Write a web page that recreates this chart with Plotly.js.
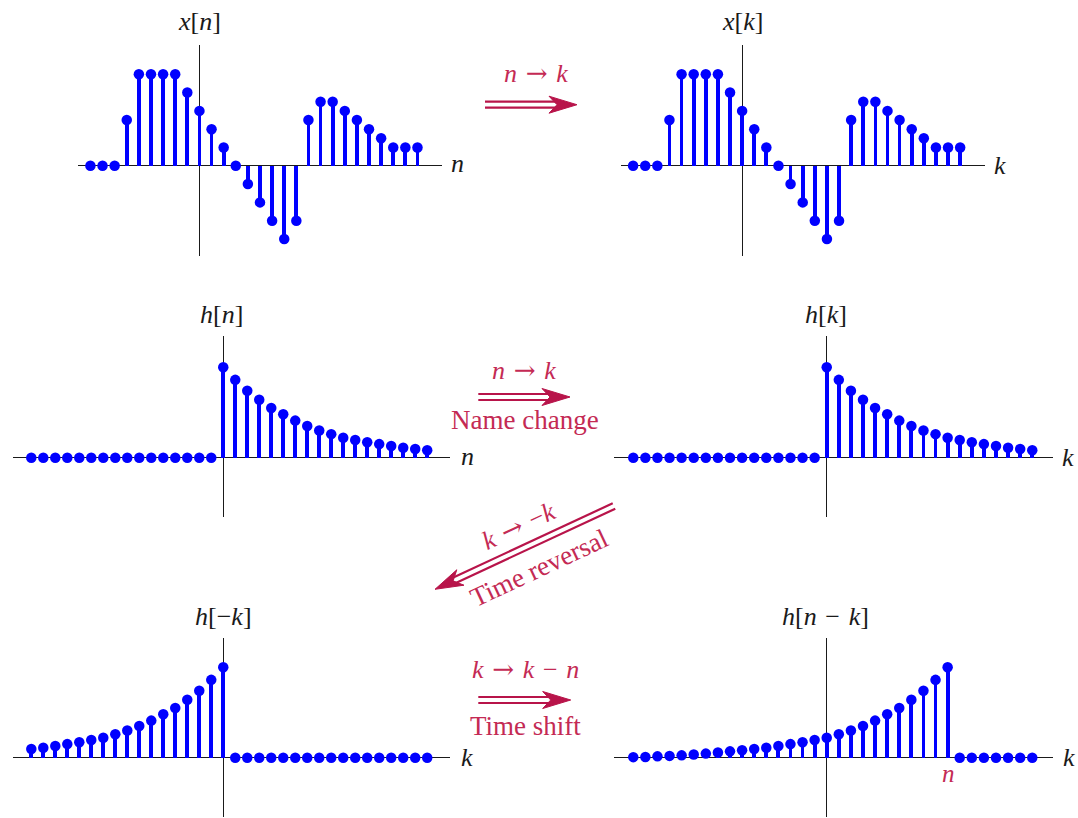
<!DOCTYPE html>
<html>
<head>
<meta charset="utf-8">
<script src="https://cdn.plot.ly/plotly-3.0.1.min.js"></script>
<style>
  html, body { margin: 0; padding: 0; background: #fff; }
  #chart { width: 1078px; height: 818px; }
</style>
</head>
<body>
<div id="chart"></div>
<script>
// ---- signal data ----
// x[n] for n = -9 .. 18
const xStart = -9;
const xValues = [0, 0, 0, 2.5, 5, 5, 5, 5, 4, 3, 2, 1, 0, -1, -2, -3, -4, -3,
                 2.5, 3.5, 3.5, 3, 2.5, 2, 1.5, 1, 1, 1];

// h[m] for m = 0 .. 26 (causal, decaying); h[m] = 0 for m < 0
const hValues = [1.00, 0.86, 0.74, 0.64, 0.55, 0.48, 0.41, 0.35, 0.30, 0.26,
                 0.22, 0.195, 0.17, 0.15, 0.13, 0.11, 0.097, 0.083, 0.07, 0.058,
                 0.045, 0.036, 0.026, 0.02, 0.015, 0.008, 0.006];

// index span used by the h panels
const hFirst = -16;
const hLast = 17;
// shift used for h[n-k]
const shiftN = 10;

// ---- helpers ----
const PW = 1078, PH = 818;
const fx = p => p / PW;
const fy = p => 1 - p / PH;
const BLUE = 'rgb(0,0,255)';
const CRIMSON = 'rgb(184,20,74)';
const TEXTRED = 'rgb(196,42,84)';
const INK = '#1a1a1a';
const FONT = '"Liberation Serif", "Times New Roman", serif';
const FS = 26;
const SP = '\u2004';
const ARROW = SP + '<span style="font-family:\'DejaVu Serif\'">→</span>' + SP;
const MINUS = SP + '−' + SP;

function span(a, b) { const r = []; for (let i = a; i <= b; i++) r.push(i); return r; }
function h(m) { return (m >= 0 && m < hValues.length) ? hValues[m] : 0; }

const xIdx = span(xStart, xStart + xValues.length - 1);
const kIdx = span(hFirst, hLast);

const series = [
  { x: xIdx, y: xValues },
  { x: xIdx, y: xValues },
  { x: kIdx, y: kIdx.map(n => h(n)) },
  { x: kIdx, y: kIdx.map(k => h(k)) },
  { x: kIdx, y: kIdx.map(k => h(-k)) },
  { x: kIdx, y: kIdx.map(k => h(shiftN - k)) }
];

// axis boxes (pixel extents of the drawn axis lines) and ranges
const panels = [
  { xpx: [78.3, 441.7],  xr: [-10, 20],       ypx: [45, 256],      yr: [-4.93, 6.6] },
  { xpx: [621, 985],     xr: [-10, 20.05],    ypx: [45, 256],      yr: [-4.93, 6.6] },
  { xpx: [12.7, 450],    xr: [-17.55, 18.9],  ypx: [335.7, 516.7], yr: [-0.652, 1.348] },
  { xpx: [614.3, 1053.3],xr: [-17.57, 18.74], ypx: [335.7, 516.7], yr: [-0.652, 1.348] },
  { xpx: [12.7, 450],    xr: [-17.55, 18.9],  ypx: [637.7, 816.7], yr: [-0.652, 1.326] },
  { xpx: [614.3, 1053.3],xr: [-17.57, 18.74], ypx: [637.7, 816.7], yr: [-0.652, 1.326] }
];

const traces = [];
const layout = {
  width: PW, height: PH,
  margin: { l: 0, r: 0, t: 0, b: 0, pad: 0 },
  paper_bgcolor: '#fff', plot_bgcolor: 'rgba(0,0,0,0)',
  showlegend: false, hovermode: false,
  font: { family: FONT, size: FS, color: INK },
  shapes: [], annotations: []
};

panels.forEach((p, i) => {
  const s = i === 0 ? '' : String(i + 1);
  const xa = 'x' + s, ya = 'y' + s;
  const axBase = {
    showgrid: false, showticklabels: false, ticks: '', showline: false,
    zeroline: true, zerolinecolor: INK, zerolinewidth: 1.2, fixedrange: true
  };
  layout['xaxis' + s] = Object.assign({}, axBase, {
    domain: [fx(p.xpx[0]), fx(p.xpx[1])], range: p.xr, anchor: ya
  });
  layout['yaxis' + s] = Object.assign({}, axBase, {
    domain: [fy(p.ypx[1]), fy(p.ypx[0])], range: p.yr, anchor: xa
  });
  const d = series[i];
  traces.push({
    type: 'bar', x: d.x, y: d.y, width: 0.31, xaxis: xa, yaxis: ya,
    marker: { color: BLUE, line: { width: 0 } }, hoverinfo: 'skip'
  });
  traces.push({
    type: 'scatter', mode: 'markers', x: d.x, y: d.y, xaxis: xa, yaxis: ya,
    marker: { color: BLUE, size: 10.5, line: { width: 0 } },
    cliponaxis: false, hoverinfo: 'skip'
  });
});
layout.bargap = 0;

// ---- labels ----
function label(text, x, y, opts) {
  layout.annotations.push(Object.assign({
    text: text, xref: 'paper', yref: 'paper', x: fx(x), y: fy(y),
    xanchor: 'center', yanchor: 'middle', showarrow: false,
    font: { family: FONT, size: FS, color: INK }
  }, opts || {}));
}
const red = (size) => ({ font: { family: FONT, size: size || FS, color: TEXTRED } });

label('<i>x</i>[<i>n</i>]', 199, 22);
label('<i>x</i>[<i>k</i>]', 742, 22);
label('<i>h</i>[<i>n</i>]', 221, 314);
label('<i>h</i>[<i>k</i>]', 826, 314);
label('<i>h</i>[−<i>k</i>]', 223, 616);
label('<i>h</i>[<i>n</i>' + MINUS + '<i>k</i>]', 825, 616);

label('<i>n</i>', 457, 163);
label('<i>k</i>', 1000, 165);
label('<i>n</i>', 467, 456);
label('<i>k</i>', 1068, 457);
label('<i>k</i>', 467, 757);
label('<i>k</i>', 1069, 757);
label('<i>n</i>', 948, 773, red(25));

label('<i>n</i>' + ARROW + '<i>k</i>', 536, 73, red());
label('<i>n</i>' + ARROW + '<i>k</i>', 524, 370, red());
label('Name change', 525, 420, red(27));
label('<i>k</i>' + ARROW + '−<i>k</i>', 518, 526, Object.assign(red(), { textangle: -25 }));
label('Time reversal', 539, 568, Object.assign(red(27), { textangle: -25 }));
label('<i>k</i>' + ARROW + '<i>k</i>' + MINUS + '<i>n</i>', 525, 669, red());
label('Time shift', 525, 726, red(27));

// ---- double arrows ----
function doubleArrow(x0, y0, x1, y1) {
  const dx = x1 - x0, dy = y1 - y0, L = Math.hypot(dx, dy);
  const ux = dx / L, uy = dy / L, nx = -uy, ny = ux;
  const gap = 3, headLen = 28, headHalf = 8.5, notch = 20;
  [-gap, gap].forEach(o => {
    layout.shapes.push({
      type: 'line', xref: 'paper', yref: 'paper',
      x0: fx(x0 + nx * o), y0: fy(y0 + ny * o),
      x1: fx(x1 - ux * (notch + 1) + nx * o), y1: fy(y1 - uy * (notch + 1) + ny * o),
      line: { color: CRIMSON, width: 2.2 }
    });
  });
  const pts = [
    [x1, y1],
    [x1 - ux * headLen + nx * headHalf, y1 - uy * headLen + ny * headHalf],
    [x1 - ux * notch, y1 - uy * notch],
    [x1 - ux * headLen - nx * headHalf, y1 - uy * headLen - ny * headHalf]
  ];
  const path = pts.map((q, j) => (j ? 'L' : 'M') + fx(q[0]).toFixed(5) + ',' + fy(q[1]).toFixed(5)).join(' ') + ' Z';
  layout.shapes.push({
    type: 'path', xref: 'paper', yref: 'paper', path: path,
    fillcolor: CRIMSON, line: { color: CRIMSON, width: 1 }
  });
}
doubleArrow(485, 104.7, 577, 104.7);
doubleArrow(478.3, 397, 570, 397);
doubleArrow(614, 506, 435, 589.3);
doubleArrow(478.3, 700, 570.7, 700);

Plotly.newPlot('chart', traces, layout, { displayModeBar: false, staticPlot: true });
</script>
</body>
</html>
